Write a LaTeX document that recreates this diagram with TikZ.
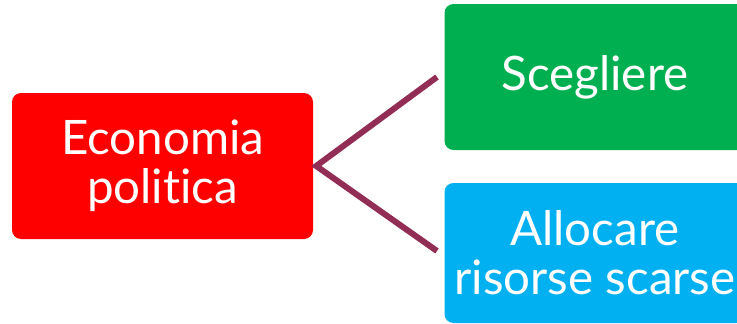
\documentclass[tikz,border=0pt]{standalone}
\usepackage{fontspec}
\setmainfont[Ligatures={NoCommon}]{Lato}
\usetikzlibrary{positioning}
\definecolor{econred}{HTML}{FF0000}
\definecolor{chooseg}{HTML}{00B050}
\definecolor{scarceb}{HTML}{00B0F0}
\definecolor{linkplum}{HTML}{922E55}

\begin{document}
\begin{tikzpicture}[x=1pt,y=-1pt,
    boxnode/.style={rounded corners=9pt,minimum width=301pt,inner sep=0pt,
                    text=white,align=center,
                    font=\fontsize{47.5}{49}\selectfont},
    linkline/.style={linkplum,line width=6pt}]
  \clip (0,0) rectangle (737,324);
  \useasboundingbox (0,0) rectangle (737,324);
  \node[boxnode,fill=econred,minimum height=146pt] (econ) at (162.5,166)
        {Economia\\politica};
  \node[boxnode,fill=chooseg,minimum height=146pt] (choose) at (595,77)
        {Scegliere};
  \node[boxnode,fill=scarceb,minimum height=140pt] (alloc) at (595,253)
        {Allocare\\risorse scarse};
  \coordinate[right=3pt of econ.east] (fork);
  \coordinate (topend) at (437,77);
  \coordinate (botend) at (437,251);
  \draw[linkline] (topend) -- (fork) -- (botend);
\end{tikzpicture}
\end{document}
